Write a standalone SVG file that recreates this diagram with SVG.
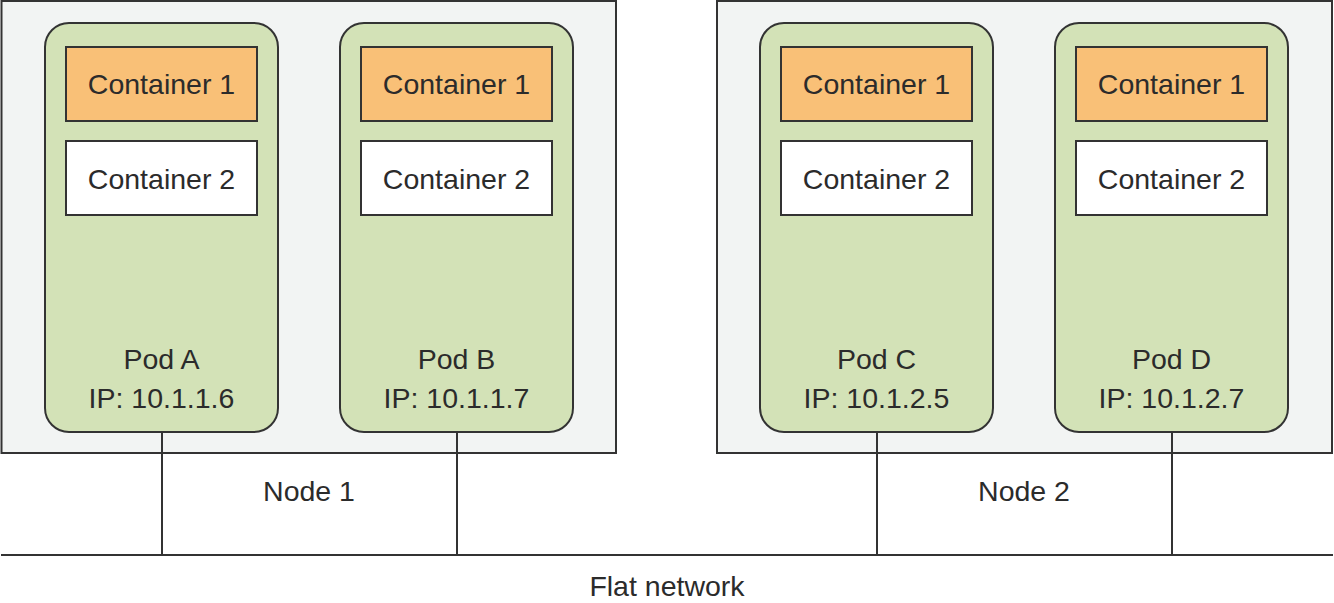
<svg xmlns="http://www.w3.org/2000/svg" width="1334" height="603" viewBox="0 0 1334 603">
<style>
.node{fill:#f2f4f3;stroke:#333;stroke-width:2}
.pod{fill:#d3e2b7;stroke:#333;stroke-width:2}
.c1{fill:#f9c077;stroke:#333;stroke-width:2}
.c2{fill:#fff;stroke:#333;stroke-width:2}
.ln{stroke:#333;stroke-width:2;fill:none}
text{font-family:"Liberation Sans",Arial,sans-serif;font-size:28.5px;fill:#2b2b2b;text-anchor:middle}
</style>
<g id="node1"><rect class="node" x="1.5" y="1" width="614.5" height="452"/><text x="309" y="501">Node 1</text></g>
<g id="node2"><rect class="node" x="717" y="1" width="615" height="452"/><text x="1024" y="501">Node 2</text></g>
<g id="connectors">
<line class="ln" x1="1" y1="555" x2="1333" y2="555"/>
<line class="ln" x1="162" y1="432" x2="162" y2="555"/>
<line class="ln" x1="457" y1="432" x2="457" y2="555"/>
<line class="ln" x1="877" y1="432" x2="877" y2="555"/>
<line class="ln" x1="1172" y1="432" x2="1172" y2="555"/>
</g>
<g id="podA"><rect class="pod" x="45" y="23" width="233" height="409" rx="24"/>
<rect class="c1" x="66" y="47" width="191" height="74"/><text x="161.5" y="94">Container 1</text>
<rect class="c2" x="66" y="141" width="191" height="74"/><text x="161.5" y="189">Container 2</text>
<text x="161.5" y="369">Pod A</text><text x="161.5" y="408">IP: 10.1.1.6</text></g>
<g id="podB"><rect class="pod" x="340" y="23" width="233" height="409" rx="24"/>
<rect class="c1" x="361" y="47" width="191" height="74"/><text x="456.5" y="94">Container 1</text>
<rect class="c2" x="361" y="141" width="191" height="74"/><text x="456.5" y="189">Container 2</text>
<text x="456.5" y="369">Pod B</text><text x="456.5" y="408">IP: 10.1.1.7</text></g>
<g id="podC"><rect class="pod" x="760" y="23" width="233" height="409" rx="24"/>
<rect class="c1" x="781" y="47" width="191" height="74"/><text x="876.5" y="94">Container 1</text>
<rect class="c2" x="781" y="141" width="191" height="74"/><text x="876.5" y="189">Container 2</text>
<text x="876.5" y="369">Pod C</text><text x="876.5" y="408">IP: 10.1.2.5</text></g>
<g id="podD"><rect class="pod" x="1055" y="23" width="233" height="409" rx="24"/>
<rect class="c1" x="1076" y="47" width="191" height="74"/><text x="1171.5" y="94">Container 1</text>
<rect class="c2" x="1076" y="141" width="191" height="74"/><text x="1171.5" y="189">Container 2</text>
<text x="1171.5" y="369">Pod D</text><text x="1171.5" y="408">IP: 10.1.2.7</text></g>
<g id="flat"><text x="667" y="596">Flat network</text></g>
</svg>
